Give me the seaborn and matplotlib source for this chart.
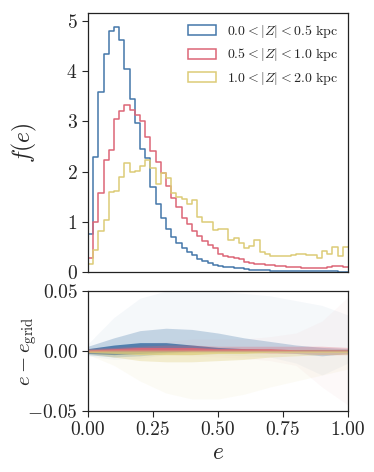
import numpy as np
import pandas as pd
import matplotlib
matplotlib.use("Agg")
import matplotlib.pyplot as plt
from matplotlib.patches import Patch
import seaborn as sns

# histogram of eccentricity, 50 bins on [0, 1], density values
n_bins = 50
bin_centres = (np.arange(n_bins) + 0.5) / n_bins

f_low = [0.75, 2.30, 3.59, 4.35, 4.80, 4.88, 4.62, 4.04, 3.44, 2.97,
         2.45, 2.27, 1.69, 1.36, 1.08, 0.86, 0.70, 0.58, 0.48, 0.40,
         0.33, 0.26, 0.21, 0.17, 0.14, 0.12, 0.10, 0.09, 0.08, 0.07,
         0.06, 0.05, 0.045, 0.04, 0.035, 0.03, 0.028, 0.025, 0.022, 0.02,
         0.018, 0.016, 0.015, 0.014, 0.013, 0.012, 0.012, 0.011, 0.01, 0.01]
f_mid = [0.27, 1.00, 1.57, 2.24, 2.43, 3.05, 3.20, 3.32, 3.23, 3.13,
         3.00, 2.69, 2.42, 2.20, 1.97, 1.72, 1.48, 1.30, 1.07, 0.96,
         0.81, 0.72, 0.62, 0.54, 0.47, 0.36, 0.31, 0.30, 0.28, 0.26,
         0.20, 0.18, 0.15, 0.15, 0.13, 0.14, 0.11, 0.12, 0.09, 0.10,
         0.10, 0.08, 0.07, 0.07, 0.07, 0.08, 0.10, 0.11, 0.11, 0.09]
f_high = [0.15, 0.43, 0.82, 1.04, 1.59, 1.62, 1.90, 2.17, 1.99, 2.01,
          2.11, 2.23, 2.08, 1.76, 1.97, 1.87, 1.57, 1.49, 1.45, 1.36,
          1.44, 1.09, 0.99, 0.99, 0.84, 0.85, 0.86, 0.63, 0.68, 0.58,
          0.48, 0.52, 0.63, 0.40, 0.36, 0.31, 0.31, 0.32, 0.31, 0.33,
          0.36, 0.36, 0.33, 0.33, 0.28, 0.41, 0.36, 0.50, 0.31, 0.50]

labels = [r"$0.0<|Z|<0.5$ kpc", r"$0.5<|Z|<1.0$ kpc", r"$1.0<|Z|<2.0$ kpc"]
colors = ["#4477AA", "#DD6677", "#DDCC77"]

# residual cloud e - e_grid: extent of the dense core, the thinner speckle and
# the sparse outliers, read at e = 0, 0.1, ..., 1.0
res_e = [0.0, 0.1, 0.2, 0.3, 0.4, 0.5, 0.6, 0.7, 0.8, 0.9, 1.0]

low_core_lo = [-0.002, -0.003, -0.002, -0.001, 0.000, 0.000, 0.000, 0.000, 0.000, 0.000, 0.000]
low_core_hi = [0.002, 0.005, 0.007, 0.007, 0.005, 0.003, 0.002, 0.001, 0.001, 0.001, 0.001]
low_mid_lo = [-0.003, -0.005, -0.004, -0.002, -0.001, -0.001, -0.001, -0.001, -0.002, -0.004, -0.002]
low_mid_hi = [0.004, 0.011, 0.017, 0.019, 0.018, 0.015, 0.011, 0.008, 0.005, 0.003, 0.002]
low_haze_lo = [-0.004, -0.007, -0.006, -0.003, -0.003, -0.003, -0.004, -0.005, -0.010, -0.020, -0.010]
low_haze_hi = [0.006, 0.028, 0.044, 0.050, 0.050, 0.050, 0.048, 0.046, 0.042, 0.038, 0.030]

mid_core_lo = [-0.001, 0.000, 0.000, 0.000, 0.000, 0.000, 0.000, 0.000, 0.000, 0.000, 0.000]
mid_core_hi = [0.001, 0.002, 0.003, 0.003, 0.003, 0.002, 0.002, 0.002, 0.001, 0.001, 0.001]
mid_mid_lo = [-0.001, -0.001, -0.001, -0.001, -0.001, -0.001, -0.001, -0.002, -0.002, -0.003, -0.003]
mid_mid_hi = [0.002, 0.003, 0.004, 0.005, 0.005, 0.004, 0.004, 0.004, 0.004, 0.004, 0.003]
mid_haze_lo = [-0.002, -0.003, -0.003, -0.003, -0.004, -0.005, -0.006, -0.008, -0.012, -0.030, -0.045]
mid_haze_hi = [0.002, 0.004, 0.006, 0.008, 0.010, 0.010, 0.010, 0.012, 0.015, 0.025, 0.045]

high_core_lo = [-0.001, -0.002, -0.003, -0.003, -0.003, -0.002, -0.002, -0.001, -0.001, -0.001, -0.001]
high_core_hi = [0.000, 0.000, 0.000, 0.000, 0.000, 0.000, 0.000, 0.000, 0.000, 0.000, 0.000]
high_mid_lo = [-0.002, -0.005, -0.008, -0.009, -0.009, -0.008, -0.007, -0.005, -0.004, -0.003, -0.003]
high_mid_hi = [0.001, 0.001, 0.001, 0.001, 0.001, 0.001, 0.001, 0.001, 0.001, 0.001, 0.001]
high_haze_lo = [-0.003, -0.012, -0.025, -0.035, -0.040, -0.040, -0.036, -0.030, -0.025, -0.020, -0.015]
high_haze_hi = [0.002, 0.002, 0.002, 0.002, 0.002, 0.002, 0.002, 0.002, 0.002, 0.002, 0.002]

sns.set_style("ticks")
plt.rcParams["font.family"] = ["cmr10", "DejaVu Serif"]
plt.rcParams["mathtext.fontset"] = "cm"
plt.rcParams["axes.formatter.use_mathtext"] = True
plt.rcParams["axes.unicode_minus"] = True

fig = plt.figure(figsize=(3.74, 4.72), dpi=100)
ax1 = fig.add_axes([0.2353, 0.4237, 0.6952, 0.5477])
ax2 = fig.add_axes([0.2353, 0.1292, 0.6952, 0.2542])

for vals, col in zip([f_low, f_mid, f_high], colors):
    df = pd.DataFrame({"e": bin_centres, "f": vals})
    sns.histplot(data=df, x="e", weights="f", bins=n_bins, binrange=(0, 1),
                 element="step", fill=False, color=col, linewidth=1.1,
                 stat="count", ax=ax1)

ax1.set_xlim(0, 1)
ax1.set_ylim(0, 5.15)
ax1.set_yticks([0, 1, 2, 3, 4, 5])
ax1.set_ylabel(r"$f(e)$", fontsize=17)
ax1.set_xlabel("")
ax1.tick_params(axis="x", bottom=False, labelbottom=False)
ax1.tick_params(axis="y", labelsize=14, length=4, width=0.8)
handles = [Patch(facecolor="none", edgecolor=c, linewidth=1.1) for c in colors]
ax1.legend(handles, labels, loc="upper right", frameon=False, fontsize=10,
           handlelength=2.0, handleheight=0.75, borderaxespad=0.3,
           labelspacing=0.45)

bands = [
    (colors[0], [(low_haze_lo, low_haze_hi, 0.05), (low_mid_lo, low_mid_hi, 0.28), (low_core_lo, low_core_hi, 0.9)]),
    (colors[1], [(mid_haze_lo, mid_haze_hi, 0.04), (mid_mid_lo, mid_mid_hi, 0.3), (mid_core_lo, mid_core_hi, 0.9)]),
    (colors[2], [(high_haze_lo, high_haze_hi, 0.07), (high_mid_lo, high_mid_hi, 0.3), (high_core_lo, high_core_hi, 0.7)]),
]
for col, layers in bands:
    for lo, hi, a in layers:
        ax2.fill_between(res_e, lo, hi, color=col, alpha=a, linewidth=0)

ax2.set_xlim(0, 1)
ax2.set_ylim(-0.05, 0.05)
ax2.set_xticks([0, 0.25, 0.5, 0.75, 1.0])
ax2.set_yticks([-0.05, 0, 0.05])
ax2.set_xticklabels(["0.00", "0.25", "0.50", "0.75", "1.00"])
ax2.set_yticklabels([r"$-0.05$", "0.00", "0.05"])
ax2.tick_params(labelsize=14, length=4, width=0.8)
ax2.set_xlabel(r"$e$", fontsize=17, labelpad=2)
ax2.set_ylabel(r"$e-e_{\rm grid}$", fontsize=15)

ax1.yaxis.set_label_coords(-0.19, 0.5)
ax2.yaxis.set_label_coords(-0.19, 0.5)

for ax in (ax1, ax2):
    for s in ax.spines.values():
        s.set_linewidth(0.9)
        s.set_color("#222222")

fig.savefig("out.png", dpi=100)
